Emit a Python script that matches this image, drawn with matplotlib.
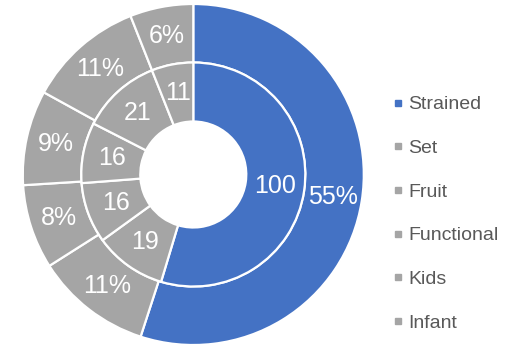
import matplotlib
matplotlib.use("Agg")
import numpy as np
import matplotlib.pyplot as plt
from matplotlib.lines import Line2D

plt.rcParams['font.family'] = ['Liberation Sans', 'DejaVu Sans']

categories = ['Strained', 'Set', 'Fruit', 'Functional', 'Kids', 'Infant']
volumes = [100, 19, 16, 16, 21, 11]      # inner ring
shares = [55, 11, 8, 9, 11, 6]           # outer ring, percent

blue = '#4472C4'
grey = '#A5A5A5'
colors = [blue] + [grey] * 5

W, H = 523, 349
fig = plt.figure(figsize=(W / 100, H / 100), dpi=100)

# pie centre and outer radius in pixels
cx, cy, R = 193.3, 174.5, 170.5
ax = fig.add_axes([(cx - R) / W, (H - cy - R) / H, 2 * R / W, 2 * R / H])

r_mid = 112 / R
r_hole = 53 / R
edge = dict(edgecolor='white', linewidth=1.6)

outer, _ = ax.pie(shares, radius=1.0, colors=colors, startangle=90,
                  counterclock=False,
                  wedgeprops=dict(width=1.0 - r_mid, **edge))
inner, _ = ax.pie(volumes, radius=r_mid, colors=colors, startangle=90,
                  counterclock=False,
                  wedgeprops=dict(width=r_mid - r_hole, **edge))


def label_ring(wedges, texts, r):
    for w, t in zip(wedges, texts):
        ang = np.deg2rad((w.theta1 + w.theta2) / 2)
        ax.text(r * np.cos(ang), r * np.sin(ang), t, color='white',
                fontsize=18, ha='center', va='center')

label_ring(outer, ['%d%%' % s for s in shares], (1.0 + r_mid) / 2)
label_ring(inner, [str(v) for v in volumes], (r_mid + r_hole) / 2)

ax.set_xlim(-1, 1)
ax.set_ylim(-1, 1)
ax.set_aspect('equal')
ax.axis('off')

handles = [Line2D([], [], marker='s', linestyle='none', markersize=5,
                  markerfacecolor=c, markeredgecolor=c) for c in colors]
fig.legend(handles, categories, loc='upper left',
           bbox_to_anchor=(382 / W, 1 - 86 / H), frameon=False,
           fontsize=14, labelcolor='#595959', handlelength=0.6,
           handletextpad=0.25, labelspacing=1.34, borderpad=0)

fig.savefig('out.png', dpi=100)
